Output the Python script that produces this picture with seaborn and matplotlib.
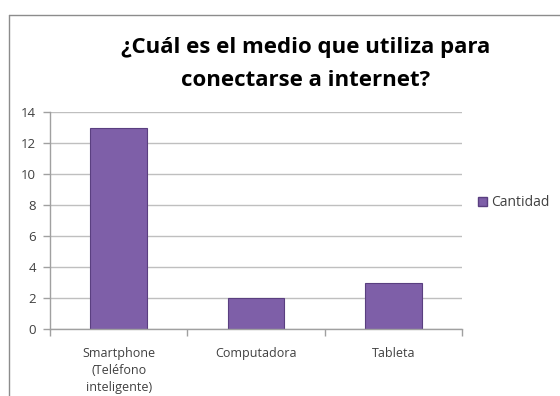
import matplotlib
matplotlib.use("Agg")
import matplotlib.pyplot as plt
import seaborn as sns
import pandas as pd
from matplotlib.lines import Line2D
from matplotlib.patches import Patch

categories = ["Smartphone\n(Teléfono\ninteligente)", "Computadora", "Tableta"]
values = [13, 2, 3]
series_name = "Cantidad"
yticks = [0, 2, 4, 6, 8, 10, 12, 14]
title_lines = ["¿Cuál es el medio que utiliza para", "conectarse a internet?"]

df = pd.DataFrame({"categoria": categories, "valor": values})

sns.set_style("white")
plt.rcParams["font.family"] = ["Open Sans", "DejaVu Sans"]

W, H = 560, 396
fig = plt.figure(figsize=(W / 100, H / 100), dpi=100)
ax = fig.add_axes([50 / W, 1 - 329.3 / H, (462 - 50) / W, (329.3 - 112.3) / H])

sns.barplot(data=df, x="categoria", y="valor", ax=ax, color="#7E5FA8",
            width=0.415, edgecolor="#5A3F80", linewidth=0.8, saturation=1)

ax.set_ylim(0, 14)
ax.set_xlim(-0.5, 2.5)
ax.set_yticks(yticks)
ax.set_yticklabels([str(t) for t in yticks], fontsize=9.5, color="#404040")
ax.yaxis.grid(True, color="#BFBFBF", linewidth=1.0)
ax.set_axisbelow(True)
ax.set_xlabel("")
ax.set_ylabel("")
ax.tick_params(axis="x", length=0, labelsize=9, labelcolor="#404040", pad=13)
for t in ax.get_xticklabels():
    t.set_linespacing(1.4)
ax.tick_params(axis="y", length=5, color="#A0A0A0", width=1, direction="out", pad=5, left=True)
ax.set_xticks([-0.5, 0.5, 1.5, 2.5], minor=True)
ax.tick_params(axis="x", which="minor", length=5, color="#A0A0A0", width=1, direction="out", bottom=True)
for s in ["top", "right"]:
    ax.spines[s].set_visible(False)
for s in ["left", "bottom"]:
    ax.spines[s].set_color("#A0A0A0")
    ax.spines[s].set_linewidth(1)

fig.text(306 / W, 1 - 48 / H, title_lines[0], ha="center", va="center",
         fontsize=16, fontweight="bold", color="#000000")
fig.text(306 / W, 1 - 81 / H, title_lines[1], ha="center", va="center",
         fontsize=16, fontweight="bold", color="#000000")

leg = fig.legend(handles=[Patch(facecolor="#7E5FA8", edgecolor="#5A3F80", label=series_name)],
                 loc="center left", bbox_to_anchor=(478 / W, 1 - 203 / H), frameon=False,
                 fontsize=10, handlelength=0.65, handleheight=0.65, handletextpad=0.3,
                 borderpad=0, borderaxespad=0)
for t in leg.get_texts():
    t.set_color("#404040")

fig.add_artist(Line2D([9 / W, 1], [1 - 15 / H, 1 - 15 / H], transform=fig.transFigure,
                      color="#8C8C8C", linewidth=1))
fig.add_artist(Line2D([9 / W, 9 / W], [0, 1 - 15 / H], transform=fig.transFigure,
                      color="#8C8C8C", linewidth=1))

fig.savefig("out.png", dpi=100)
